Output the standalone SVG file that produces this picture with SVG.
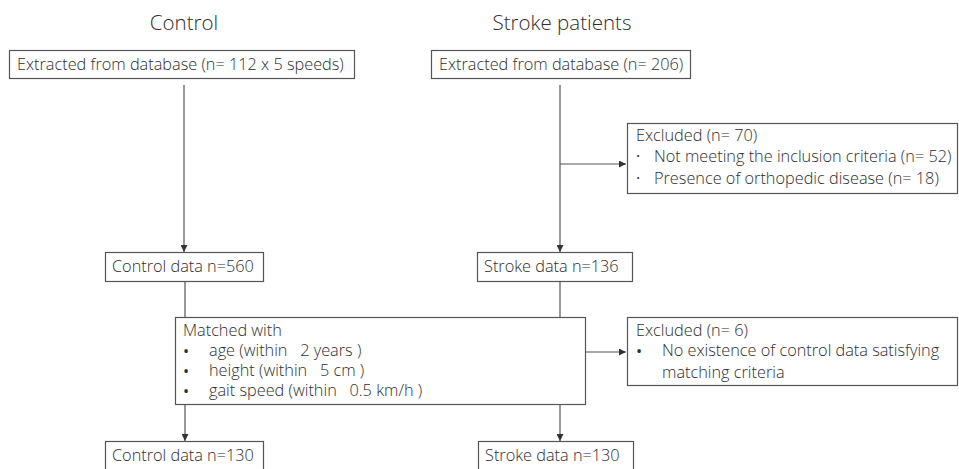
<svg xmlns="http://www.w3.org/2000/svg" width="959" height="469" viewBox="0 0 959 469">
<style>
  text { font-family: "Open Sans", "Noto Sans", "Liberation Sans", sans-serif; font-weight: 300; fill: #2e2e2e; font-size: 16.3px; white-space: pre; }
  .title { font-size: 20.5px; text-anchor: middle; }
  .dot { font-weight: 400; }
  .box { fill: #fff; stroke: #555; stroke-width: 1.2; }
  .con { stroke: #555; stroke-width: 1.2; fill: none; }
</style>
<defs>
  <marker id="arr" viewBox="0 0 10 10" refX="10" refY="5" markerWidth="7" markerHeight="7" markerUnits="userSpaceOnUse" orient="auto">
    <path d="M0,0 L10,5 L0,10 z" fill="#333"/>
  </marker>
</defs>
<rect width="959" height="469" fill="#fff"/>
<text class="title" x="184" y="30">Control</text>
<text class="title" x="562" y="30">Stroke patients</text>

<g id="connectors">
  <line class="con" x1="184" y1="85" x2="184" y2="252" marker-end="url(#arr)"/>
  <line class="con" x1="560" y1="85" x2="560" y2="252" marker-end="url(#arr)"/>
  <line class="con" x1="560" y1="164" x2="626" y2="164" marker-end="url(#arr)"/>
  <line class="con" x1="185" y1="282" x2="185" y2="317"/>
  <line class="con" x1="560" y1="282" x2="560" y2="317"/>
  <line class="con" x1="586" y1="352" x2="626" y2="352" marker-end="url(#arr)"/>
  <line class="con" x1="185" y1="405" x2="185" y2="441" marker-end="url(#arr)"/>
  <line class="con" x1="560" y1="405" x2="560" y2="441" marker-end="url(#arr)"/>
</g>

<g id="ctrl-extract">
  <rect class="box" x="9.5" y="50.5" width="345" height="28"/>
  <text x="17" y="70">Extracted from database (n= 112 x 5 speeds)</text>
</g>
<g id="stroke-extract">
  <rect class="box" x="431.5" y="50.5" width="259" height="28"/>
  <text x="439" y="70">Extracted from database (n= 206)</text>
</g>
<g id="excluded-70">
  <rect class="box" x="627.5" y="123.5" width="330" height="70"/>
  <text x="636" y="141">Excluded (n= 70)</text>
  <text class="dot" x="636" y="162">·</text>
  <text x="654" y="162">Not meeting the inclusion criteria (n= 52)</text>
  <text class="dot" x="636" y="184">·</text>
  <text x="654" y="184">Presence of orthopedic disease (n= 18)</text>
</g>
<g id="ctrl-560">
  <rect class="box" x="105.5" y="252.5" width="158" height="29"/>
  <text x="112" y="272">Control data n=560</text>
</g>
<g id="stroke-136">
  <rect class="box" x="477.5" y="252.5" width="155" height="29"/>
  <text x="484" y="272">Stroke data n=136</text>
</g>
<g id="matched">
  <rect class="box" x="175.5" y="317.5" width="410" height="87"/>
  <text x="183" y="336">Matched with</text>
  <text class="dot" x="183" y="357">•</text>
  <text x="209" y="356">age (within   2 years )</text>
  <text class="dot" x="183" y="377">•</text>
  <text x="209" y="376">height (within   5 cm )</text>
  <text class="dot" x="183" y="397">•</text>
  <text x="209" y="396">gait speed (within   0.5 km/h )</text>
</g>
<g id="excluded-6">
  <rect class="box" x="627.5" y="317.5" width="330" height="68"/>
  <text x="636" y="336">Excluded (n= 6)</text>
  <text class="dot" x="636" y="357">•</text>
  <text x="662" y="356">No existence of control data satisfying</text>
  <text x="662" y="378">matching criteria</text>
</g>
<g id="ctrl-130">
  <rect class="box" x="105.5" y="441.5" width="158" height="30"/>
  <text x="112" y="461">Control data n=130</text>
</g>
<g id="stroke-130">
  <rect class="box" x="478.5" y="441.5" width="155" height="30"/>
  <text x="485" y="461">Stroke data n=130</text>
</g>
</svg>
